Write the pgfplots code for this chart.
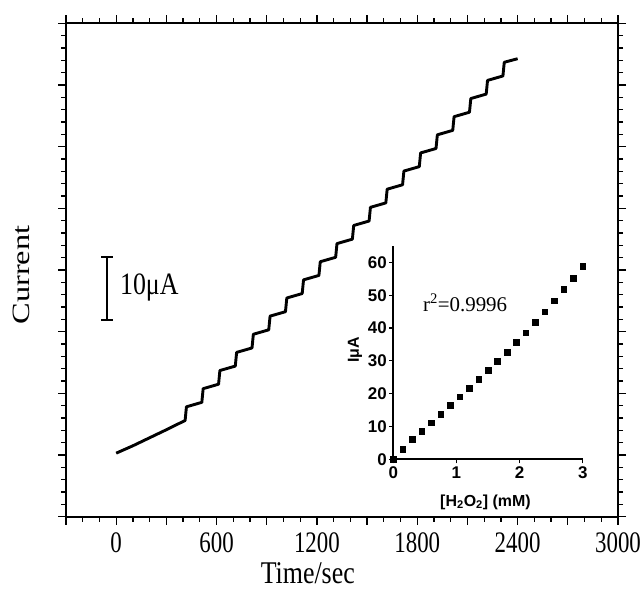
\documentclass[border=0pt]{standalone}
\usepackage{pgfplots}
\pgfplotsset{compat=1.18}
\usepackage{graphicx}
\usepackage{fontspec}
\setmainfont{Liberation Serif}
\newfontfamily\insetfont{Liberation Sans}
\newcommand\sy[1]{\scalebox{1}[1.3]{#1}}

\begin{document}
\begin{tikzpicture}[x=1bp,y=1bp]
\useasboundingbox (0,0) rectangle (642,592);
\begin{axis}[
  at={(66bp,75.3bp)}, anchor=south west, scale only axis,
  width=552bp, height=493.4bp,
  xmin=-300, xmax=3000, ymin=0, ymax=80,
  xtick={-300,0,...,3000},
  xticklabels={,\sy{0},,\sy{600},,\sy{1200},,\sy{1800},,\sy{2400},,\sy{3000}},
  minor x tick num=2,
  ytick={0,10,...,80}, yticklabels={},
  minor y tick num=4,
  tick align=outside,
  major tick length=8bp, minor tick length=5bp,
  axis line style={line width=1.8bp},
  every tick/.style={line width=1.3bp, black},
  xticklabel style={font=\fontsize{23}{26}\selectfont, yshift=-4bp},
  /pgf/number format/assume math mode=true,
  clip=false,
]
\addplot[line width=2.9bp, black, line join=round] coordinates {
(0,10.3) (100,11.5) (200,12.8) (300,14.1) (412,15.6)
(420,17.82) (512,18.54) (520,20.76)
(612,21.48) (620,23.70) (712,24.42) (720,26.64)
(812,27.36) (820,29.58) (912,30.30) (920,32.52)
(1012,33.24) (1020,35.46) (1112,36.18) (1120,38.40)
(1212,39.12) (1220,41.34) (1312,42.06) (1320,44.28)
(1412,45.00) (1420,47.22) (1512,47.94) (1520,50.16)
(1612,50.88) (1620,53.10) (1712,53.82) (1720,56.04)
(1812,56.76) (1820,58.98) (1912,59.70) (1920,61.92)
(2012,62.64) (2020,64.86) (2112,65.58) (2120,67.80)
(2212,68.52) (2220,70.74) (2312,71.46) (2320,73.68)
(2400,74.26)
};
\draw[line width=1.8bp] (axis cs:-54,31.9) -- (axis cs:-54,42.1);
\draw[line width=1.8bp] (axis cs:-90,31.9) -- (axis cs:-18,31.9);
\draw[line width=1.8bp] (axis cs:-90,42.1) -- (axis cs:-18,42.1);
\node[anchor=west, inner sep=0pt, font=\fontsize{26}{29}\selectfont] at (axis cs:22,37.2) {\scalebox{1}[1.2]{10μA}};
\node[font=\fontsize{26}{29}\selectfont] at (axis description cs:0.438,-0.114) {\scalebox{1}[1.22]{Time/sec}};
\node[rotate=90, font=\fontsize{25}{28}\selectfont] at (axis description cs:-0.08,0.49) {\scalebox{1.3}[1]{Current}};
\end{axis}

\begin{axis}[
  at={(393.3bp,132.7bp)}, anchor=south west, scale only axis,
  width=189.4bp, height=213.3bp,
  xmin=0, xmax=3, ymin=0, ymax=65,
  axis x line*=bottom, axis y line*=left,
  xtick={0,1,2,3}, ytick={0,10,...,60},
  tick align=outside, major tick length=4bp,
  axis line style={line width=1.8bp},
  every tick/.style={line width=1.3bp, black},
  ticklabel style={font=\insetfont\bfseries\fontsize{17}{19}\selectfont},
  yticklabel style={xshift=1bp},
  /pgf/number format/assume math mode=true,
  clip=false,
]
\addplot[only marks, mark=square*, mark size=2.8bp, black] coordinates {
(0,0) (0.15,3.05) (0.30,6.2) (0.45,8.6) (0.60,11.2) (0.75,13.8)
(0.90,16.4) (1.05,19.1) (1.20,21.7) (1.35,24.4) (1.50,27.2)
(1.65,29.9) (1.80,32.7) (1.95,35.6) (2.10,38.6) (2.25,41.7)
(2.40,45.0) (2.55,48.3) (2.70,51.9) (2.85,55.2) (3.00,58.9)
};
\node[anchor=west, inner sep=0pt, font=\insetfont\bfseries\fontsize{16}{18}\selectfont] at (axis cs:0.74,-13) {[H\textsubscript{2}O\textsubscript{2}] (mM)};
\node[rotate=90, font=\insetfont\bfseries\fontsize{16}{18}\selectfont] at (axis description cs:-0.202,0.512) {IμA};
\node[font=\fontsize{21}{24}\selectfont] at (axis description cs:0.379,0.733) {r\textsuperscript{2}=0.9996};
\end{axis}
\end{tikzpicture}
\end{document}
